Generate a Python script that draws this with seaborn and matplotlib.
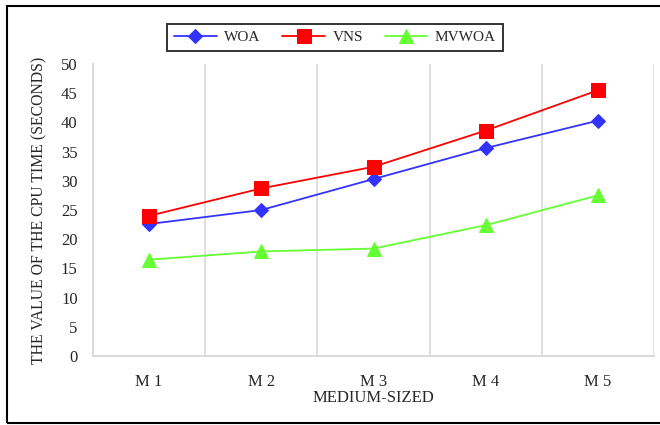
import matplotlib
matplotlib.use("Agg")
import matplotlib.pyplot as plt
from matplotlib.patches import Rectangle
import seaborn as sns
import pandas as pd

categories = ["M 1", "M 2", "M 3", "M 4", "M 5"]
woa = [22.6, 25.0, 30.3, 35.6, 40.3]
vns = [24.0, 28.7, 32.4, 38.6, 45.5]
mvwoa = [16.5, 17.9, 18.4, 22.4, 27.5]
y_ticks = [0, 5, 10, 15, 20, 25, 30, 35, 40, 45, 50]

sns.set_theme(style="white")
plt.rcParams["font.family"] = ["Liberation Serif", "DejaVu Serif"]

df = pd.DataFrame({"Instance": categories * 3,
                   "Time": woa + vns + mvwoa,
                   "Algorithm": ["WOA"] * 5 + ["VNS"] * 5 + ["MVWOA"] * 5})

fig = plt.figure(figsize=(6.6, 4.25), dpi=100)
ax = fig.add_axes([93 / 660, 1 - 356 / 425, (654 - 93) / 660, (356 - 64) / 425])

palette = {"WOA": "#3333ff", "VNS": "#ff0000", "MVWOA": "#66ff33"}
markers = {"WOA": "D", "VNS": "s", "MVWOA": "^"}
sizes = {"WOA": 7, "VNS": 10, "MVWOA": 10}
for name in ["WOA", "VNS", "MVWOA"]:
    sub = df[df["Algorithm"] == name]
    sns.lineplot(data=sub, x="Instance", y="Time", ax=ax, color=palette[name],
                 marker=markers[name], markersize=sizes[name],
                 markeredgecolor=palette[name], linewidth=1.3, label=name,
                 sort=False)

ax.set_xlim(-0.5, 4.5)
ax.set_ylim(0, 50)
ax.set_yticks(y_ticks)
ax.tick_params(axis="both", labelsize=12, length=0)
ax.tick_params(axis="y", pad=11)
ax.tick_params(axis="x", pad=13)

# vertical separators between categories
for xv in [0.5, 1.5, 2.5, 3.5, 4.5]:
    ax.axvline(xv, color="#d9d9d9", linewidth=1.2, zorder=0)
for side in ["top", "right"]:
    ax.spines[side].set_visible(False)
for side in ["left", "bottom"]:
    ax.spines[side].set_color("#d9d9d9")
    ax.spines[side].set_linewidth(1.4)

ax.set_xlabel("MEDIUM-SIZED", fontsize=12, labelpad=0)
ax.set_ylabel("THE VALUE OF THE CPU TIME (SECONDS)", fontsize=11.3, labelpad=10)

handles, labels = ax.get_legend_handles_labels()
leg = fig.legend(handles, labels, loc="center", ncol=3,
                 bbox_to_anchor=(335 / 660, 1 - 37.5 / 425), frameon=True,
                 fancybox=False, edgecolor="black", fontsize=11,
                 handlelength=2.8, handletextpad=0.5, columnspacing=1.4,
                 borderpad=0.45, borderaxespad=0)
leg.get_frame().set_linewidth(1.4)
ax.get_legend().remove()

fig.patches.append(Rectangle((7 / 660, 2 / 425), 1.0, 417 / 425,
                             transform=fig.transFigure, fill=False,
                             edgecolor="black", linewidth=1.5))

fig.savefig("out.png", dpi=100)
